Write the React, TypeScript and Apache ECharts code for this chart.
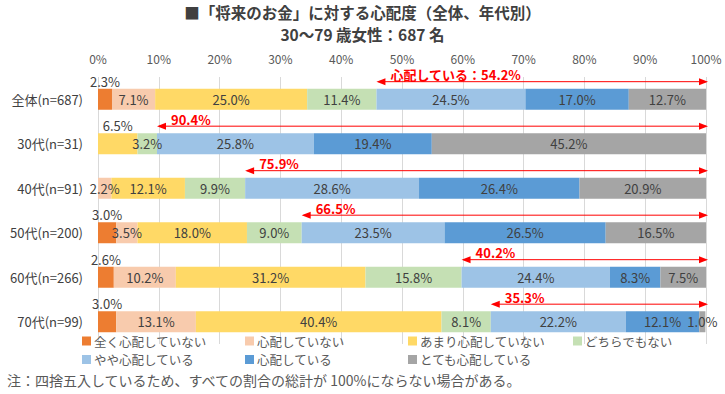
import React, { useEffect, useRef } from "react";
import * as echarts from "echarts";

const categories = ["全体(n=687)", "30代(n=31)", "40代(n=91)", "50代(n=200)", "60代(n=266)", "70代(n=99)"];
const seriesNames = ["全く心配していない", "心配していない", "あまり心配していない", "どちらでもない", "やや心配している", "心配している", "とても心配している"];
const notAtAll = [2.3, 0, 0, 3.0, 2.6, 3.0];
const notWorried = [7.1, 0, 2.2, 3.5, 10.2, 13.1];
const notVery = [25.0, 6.5, 12.1, 18.0, 31.2, 40.4];
const neutral = [11.4, 3.2, 9.9, 9.0, 15.8, 8.1];
const somewhat = [24.5, 25.8, 28.6, 23.5, 24.4, 22.2];
const worried = [17.0, 19.4, 26.4, 26.5, 8.3, 12.1];
const veryWorried = [12.7, 45.2, 20.9, 16.5, 7.5, 1.0];
const worriedTotals = [54.2, 90.4, 75.9, 66.5, 40.2, 35.3];
const worriedPrefix = ["心配している：", "", "", "", "", ""];
const xTicks = [0, 10, 20, 30, 40, 50, 60, 70, 80, 90, 100];
const titleLines = ["■「将来のお金」に対する心配度（全体、年代別）", "30～79 歳女性：687 名"];

const seriesValues = [notAtAll, notWorried, notVery, neutral, somewhat, worried, veryWorried];
const colors = ["#ED7D31", "#F8CBAD", "#FFD966", "#C5E0B4", "#9DC3E6", "#5B9BD5", "#A5A5A5"];
const FONT = "'Noto Sans CJK JP', 'Noto Sans', sans-serif";
// labels drawn above the bar: [seriesIndex, rowIndex]
const topLabels = new Set(["0-0", "0-3", "0-4", "0-5", "2-1"]);
const legendPos = [
  [82, 334], [245, 334], [408, 334], [573, 334],
  [82, 352.5], [245, 352.5], [408, 352.5],
];

export default function App() {
  const ref = useRef<HTMLDivElement>(null);
  useEffect(() => {
    if (!ref.current) return;
    const chart = echarts.init(ref.current, undefined, { renderer: "svg" });
    const arrowStarts = categories.map((_, i) => seriesValues.slice(0, 4).reduce((a, s) => a + s[i], 0));

    const barSeries = seriesValues.map((vals, s) => ({
      name: seriesNames[s],
      type: "bar",
      stack: "total",
      barWidth: 21,
      itemStyle: { color: colors[s] },
      label: {
        show: true,
        position: "inside",
        color: "#404040",
        fontSize: 13,
        fontFamily: FONT,
        formatter: (p: any) => (p.value > 0 ? p.value.toFixed(1) + "%" : ""),
      },
      data: vals.map((v, i) =>
        topLabels.has(`${s}-${i}`) ? { value: v, label: { position: "top", distance: 1 } } : v
      ),
    }));

    const arrowSeries = {
      type: "custom",
      z: 10,
      clip: false,
      silent: true,
      encode: { x: 0, y: 1 },
      data: arrowStarts.map((st, i) => [st, i]),
      renderItem: (params: any, api: any) => {
        const i = params.dataIndex;
        const p0 = api.coord([api.value(0), i]);
        const p1 = api.coord([100, i]);
        const band = api.size([0, 1])[1];
        const y = p0[1] - band * 0.395;
        const x0 = p0[0];
        const x1 = p1[0] + 2;
        const L = 9, W = 3.5;
        const red = "#FF0000";
        return {
          type: "group",
          children: [
            { type: "line", shape: { x1: x0 + 2, y1: y, x2: x1 - 2, y2: y }, style: { stroke: red, lineWidth: 1 } },
            { type: "polygon", shape: { points: [[x0, y], [x0 + L, y - W], [x0 + L, y + W]] }, style: { fill: red } },
            { type: "polygon", shape: { points: [[x1, y], [x1 - L, y - W], [x1 - L, y + W]] }, style: { fill: red } },
            {
              type: "text",
              style: {
                text: worriedPrefix[i] + worriedTotals[i].toFixed(1) + "%",
                x: x0 + 14,
                y: y - 0.5,
                fill: red,
                fontSize: 13,
                fontWeight: "bold",
                fontFamily: FONT,
                align: "left",
                verticalAlign: "bottom",
              },
            },
          ],
        };
      },
    };

    chart.setOption({
      animation: false,
      textStyle: { fontFamily: FONT },
      title: titleLines.map((t, k) => ({
        text: t,
        left: "center",
        top: 2.5 + k * 22.5,
        padding: 0,
        textStyle: { fontSize: 15.5, fontWeight: "bold", color: "#404040", fontFamily: FONT, lineHeight: 18 },
      })),
      legend: seriesNames.map((n, k) => ({
        data: [n],
        left: legendPos[k][0],
        top: legendPos[k][1],
        padding: 0,
        icon: "rect",
        itemWidth: 9,
        itemHeight: 9,
        itemGap: 0,
        selectedMode: false,
        textStyle: { fontSize: 12.5, color: "#595959", fontFamily: FONT, lineHeight: 14, padding: [0, 0, 0, -2] },
      })),
      grid: { left: 98, right: 19, top: 77, bottom: 50, containLabel: false },
      xAxis: {
        type: "value",
        position: "top",
        min: xTicks[0],
        max: xTicks[xTicks.length - 1],
        interval: 10,
        axisLine: { show: false },
        axisTick: { show: false },
        axisLabel: { formatter: "{value}%", color: "#595959", fontSize: 12, margin: 13, fontFamily: FONT },
        splitLine: { lineStyle: { color: "#D9D9D9", width: 1 } },
      },
      yAxis: {
        type: "category",
        inverse: true,
        data: categories,
        axisLine: { show: false },
        axisTick: { show: false },
        axisLabel: { color: "#404040", fontSize: 13, margin: 15, fontFamily: FONT },
      },
      graphic: [
        {
          type: "text",
          left: 7,
          top: 373,
          style: {
            text: "注：四捨五入しているため、すべての割合の総計が 100%にならない場合がある。",
            fill: "#595959",
            fontSize: 14,
            fontFamily: FONT,
          },
        },
      ],
      series: [...barSeries, arrowSeries],
    });
    return () => chart.dispose();
  }, []);
  return <div ref={ref} style={{ position: "absolute", left: 0, top: 0, width: 725, height: 394 }} />;
}
